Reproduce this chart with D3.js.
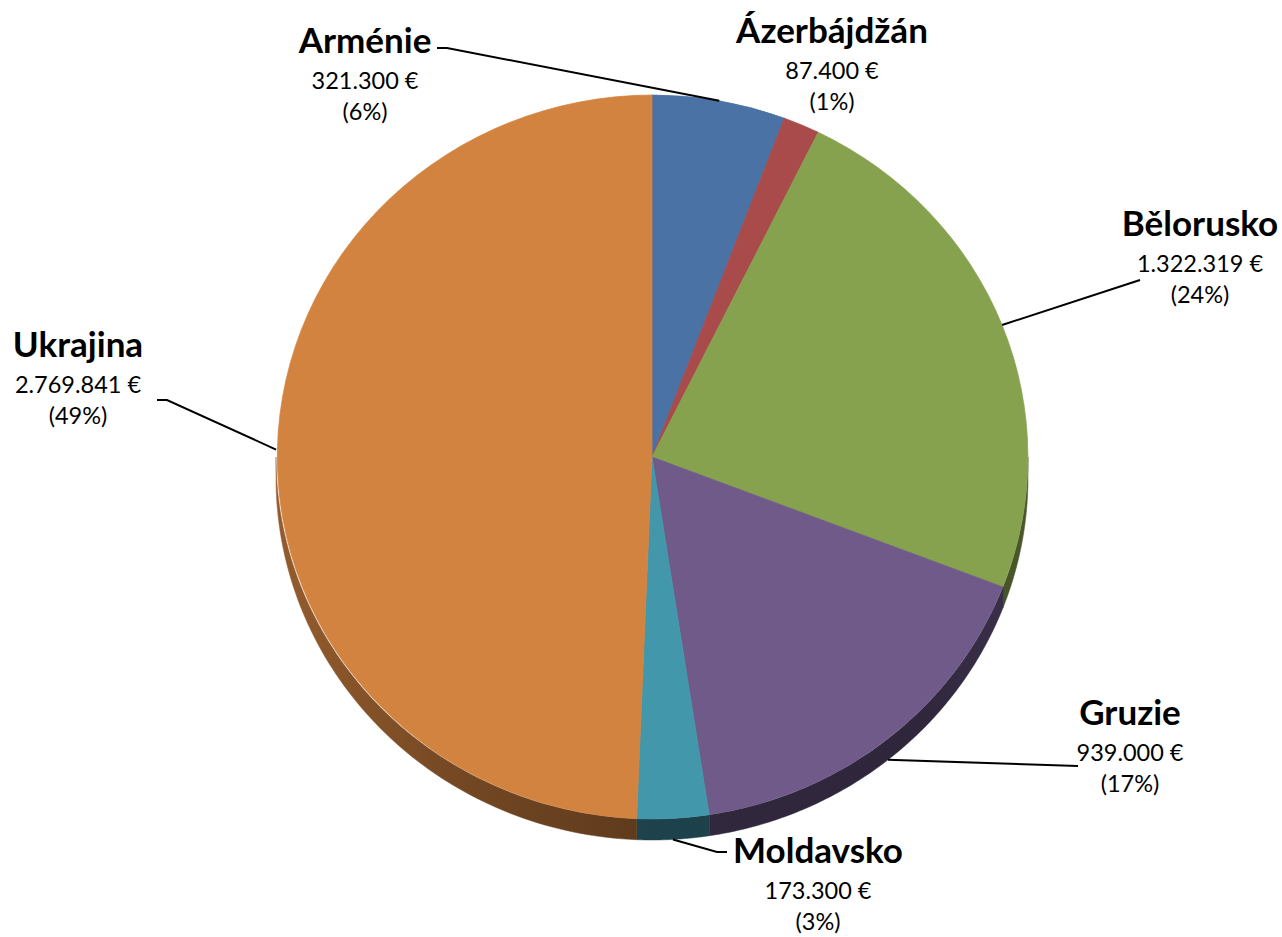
<!DOCTYPE html>
<html><head><meta charset="utf-8">
<script src="https://cdn.jsdelivr.net/npm/d3@7"></script>
<style>html,body{margin:0;padding:0;background:#fff;}svg{display:block;}</style>
</head><body>
<svg id="chart" width="1282" height="937"></svg>
<script>
// ---- data ----
const categories = ["Arménie", "Ázerbájdžán", "Bělorusko", "Gruzie", "Moldavsko", "Ukrajina"];
const values = [321300, 87400, 1322319, 939000, 173300, 2769841];
const percentLabels = ["6%", "1%", "24%", "17%", "3%", "49%"];

// ---- styles / layout ----
const colors = ["#4A72A4", "#A84B4A", "#87A24F", "#6F5A8A", "#4397AB", "#D38340"];
const W = 1282, H = 937;
const cx = 652, cy = 457, rx = 376, ry = 362, depth = 21;
// label layout: center x, name baseline y, optional leader elbow
const labelLayout = [
  {x: 365, y: 53, elbow: [[437, 48], [447, 48]]},
  {x: 832, y: 43, elbow: null},
  {x: 1200, y: 236, elbow: [[1140, 280]]},
  {x: 1130, y: 725, elbow: [[1078, 766]]},
  {x: 818, y: 863, elbow: [[727, 852], [717, 852]]},
  {x: 78, y: 357, elbow: [[157, 400], [167, 400]]}
];

const loc = d3.formatLocale({decimal: ",", thousands: ".", grouping: [3], currency: ["", " €"]});
const fmt = loc.format(",d");

const svg = d3.select("#chart");
const defs = svg.append("defs");

const pie = d3.pie().sort(null).value(d => d)(values);
const pt = (a, dy = 0) => [cx + rx * Math.sin(a), cy - ry * Math.cos(a) + dy];

// side gradient (lighting varies with x)
const kStops = [[0, 1.0], [0.25, 1.7], [0.5, 2.3], [0.85, 2.4], [1, 1.7]];

// ---- sides ----
const gSide = svg.append("g");
pie.forEach((d, i) => {
  const s = Math.max(d.startAngle, Math.PI / 2), e = Math.min(d.endAngle, 3 * Math.PI / 2);
  if (e <= s) return;
  const grad = defs.append("linearGradient").attr("id", "side" + i)
    .attr("gradientUnits", "userSpaceOnUse")
    .attr("x1", cx - rx).attr("x2", cx + rx).attr("y1", 0).attr("y2", 0);
  kStops.forEach(([o, k]) => grad.append("stop").attr("offset", o)
    .attr("stop-color", d3.color(colors[i]).darker(k).formatHex()));
  const n = 80, top = [], bot = [];
  for (let j = 0; j <= n; j++) {
    const a = s + (e - s) * j / n;
    top.push(pt(a)); bot.push(pt(a, depth));
  }
  const poly = top.concat(bot.reverse());
  gSide.append("path").attr("d", d3.line()(poly) + "Z")
    .attr("fill", `url(#side${i})`).attr("stroke", `url(#side${i})`).attr("stroke-width", 0.5);
});

// ---- top faces ----
const arc = d3.arc().innerRadius(0).outerRadius(1);
svg.append("g").attr("transform", `translate(${cx},${cy}) scale(${rx},${ry})`)
  .selectAll("path").data(pie).join("path")
  .attr("d", arc).attr("fill", (d, i) => colors[i])
  .attr("stroke", (d, i) => colors[i]).attr("stroke-width", 0.002);

// ---- leader lines ----
pie.forEach((d, i) => {
  const L = labelLayout[i];
  if (!L.elbow) return;
  const m = (d.startAngle + d.endAngle) / 2;
  const anchor = pt(m, Math.cos(m) < 0 ? depth : 0);
  const pts = [anchor].concat(L.elbow.slice().reverse());
  svg.append("path").attr("d", d3.line()(pts))
    .attr("fill", "none").attr("stroke", "#000").attr("stroke-width", 2);
});

// ---- labels ----
const font = "Lato, 'Open Sans', sans-serif";
pie.forEach((d, i) => {
  const L = labelLayout[i];
  const t = svg.append("text").attr("text-anchor", "middle").attr("font-family", font).attr("fill", "#000");
  t.append("tspan").attr("x", L.x).attr("y", L.y).attr("font-weight", 700).attr("font-size", 35).text(categories[i]);
  t.append("tspan").attr("x", L.x).attr("y", L.y + 36).attr("font-size", 23.5).text(fmt(values[i]) + " €");
  t.append("tspan").attr("x", L.x).attr("y", L.y + 67).attr("font-size", 23.5).text("(" + percentLabels[i] + ")");
});
</script>
</body></html>
